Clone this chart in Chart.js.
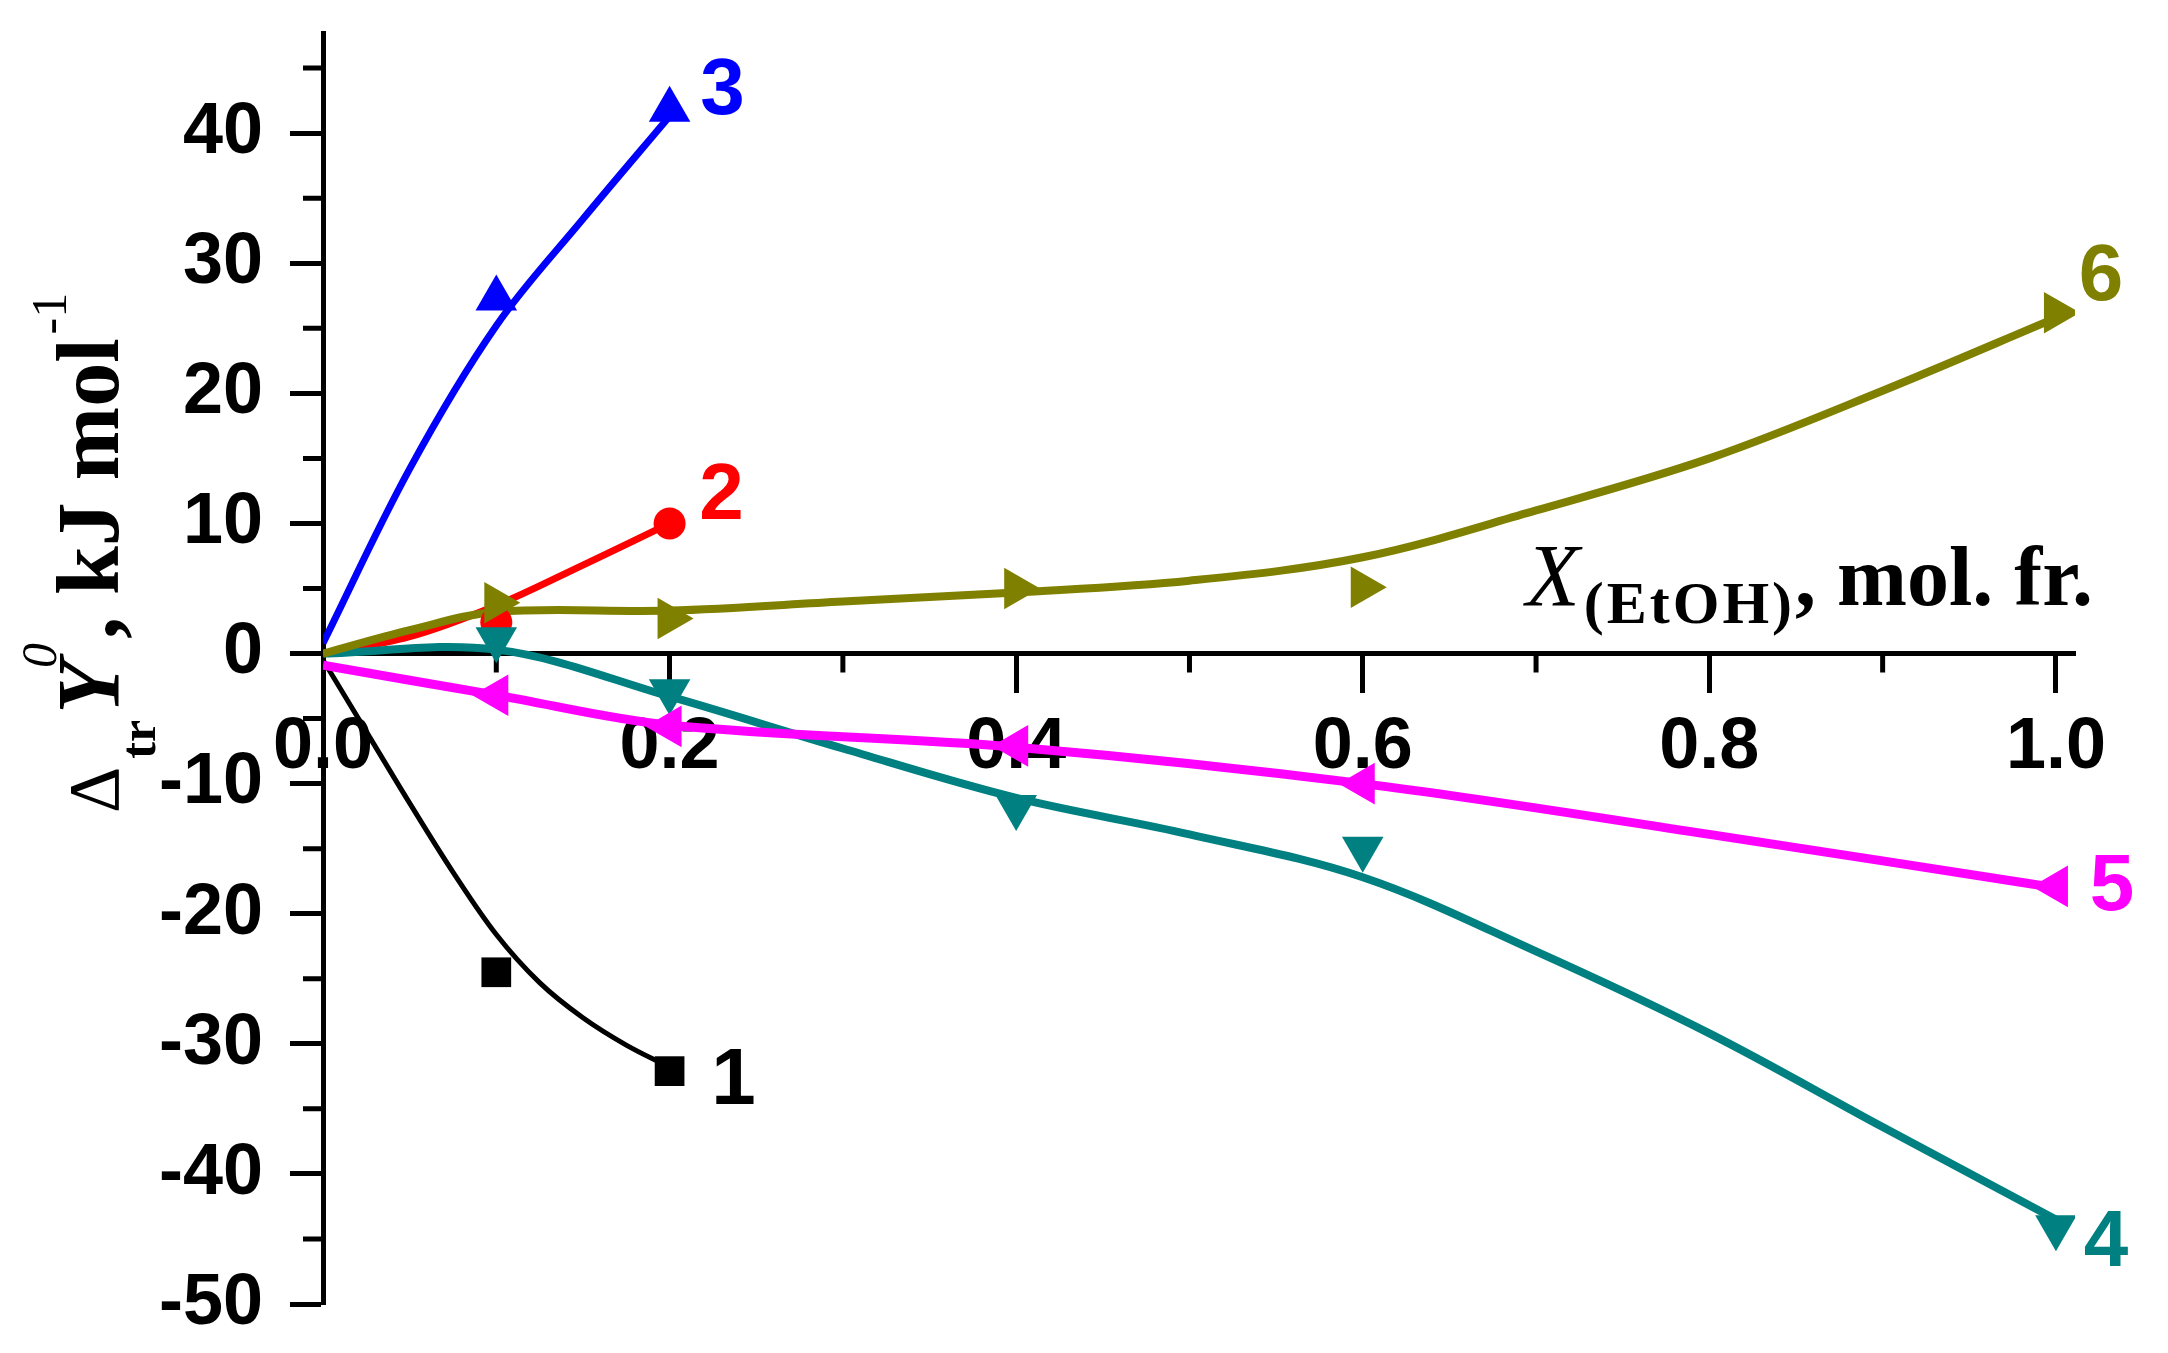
<!DOCTYPE html>
<html>
<head>
<meta charset="utf-8">
<script src="https://cdn.jsdelivr.net/npm/chart.js@4.4.0/dist/chart.umd.min.js"></script>
<style>
  html, body { margin: 0; padding: 0; background: #ffffff; }
  #wrap { width: 2168px; height: 1353px; }
</style>
</head>
<body>
<div id="wrap"><canvas id="chart"></canvas></div>
<script>
// series labels and colours (1..6)
const seriesLabels = ["1", "2", "3", "4", "5", "6"];
const seriesColors = ["#000000", "#ff0000", "#0000ff", "#008080", "#ff00ff", "#808000"];

// measured points (markers)
const markX1 = [0.1, 0.2];
const markY1 = [-24.5, -32.1];
const markX2 = [0.1, 0.2];
const markY2 = [2.4, 10.0];
const markX3 = [0.1, 0.2];
const markY3 = [27.3, 41.8];
const markX4 = [0.1, 0.2, 0.4, 0.6, 1.0];
const markY4 = [1.1, -2.9, -11.8, -15.0, -44.1];
const markX5 = [0.1, 0.2, 0.4, 0.6, 1.0];
const markY5 = [-3.2, -5.6, -7.1, -10.0, -17.9];
const markX6 = [0.1, 0.2, 0.4, 0.6, 1.0];
const markY6 = [3.9, 2.7, 5.0, 5.1, 26.2];

// fitted curves
const fitX1 = [0, 0.025, 0.05, 0.075, 0.1, 0.125, 0.15, 0.175, 0.2];
const fitY1 = [-0.5, -6.0, -11.5, -16.8, -21.6, -25.3, -28.0, -30.1, -31.8];
const fitX2 = [0, 0.05, 0.1, 0.15, 0.2];
const fitY2 = [0, 1.3, 3.7, 6.8, 10.0];
const fitX3 = [0, 0.05, 0.1, 0.15, 0.2];
const fitY3 = [0.8, 14.2, 25.2, 33.4, 41.3];
const fitX4 = [0, 0.1, 0.2, 0.3, 0.4, 0.5, 0.6, 0.7, 0.8, 0.9, 1.0];
const fitY4 = [0, 0.3, -3.3, -7.3, -11.1, -13.9, -17.2, -22.9, -29.2, -36.4, -43.5];
const fitX5 = [0, 0.1, 0.2, 0.4, 0.6, 0.8, 1.0];
const fitY5 = [-0.9, -3.2, -5.5, -7.2, -10.0, -13.9, -18.0];
const fitX6 = [0, 0.05, 0.1, 0.2, 0.3, 0.4, 0.5, 0.6, 0.7, 0.8, 0.9, 1.0];
const fitY6 = [0, 1.8, 3.2, 3.3, 4.0, 4.7, 5.6, 7.4, 11.0, 15.0, 20.2, 25.8];

// axis ticks
const xTicks = [0, 0.2, 0.4, 0.6, 0.8, 1.0];
const xMinorTicks = [0.1, 0.3, 0.5, 0.7, 0.9];
const yTicks = [-50, -40, -30, -20, -10, 0, 10, 20, 30, 40];
const yMinorTicks = [-45, -35, -25, -15, -5, 5, 15, 25, 35, 45];

const markX = [markX1, markX2, markX3, markX4, markX5, markX6];
const markY = [markY1, markY2, markY3, markY4, markY5, markY6];
const fitX = [fitX1, fitX2, fitX3, fitX4, fitX5, fitX6];
const fitY = [fitY1, fitY2, fitY3, fitY4, fitY5, fitY6];

const pointStyles = ["rect", "circle", "triangle", "triangle", "triangle", "triangle"];
const pointRotations = [0, 0, 0, 180, 270, 90];
const pointSizes = [21, 16, 24, 24, 24, 24];
const lineWidths = [5, 7, 7, 8, 9, 8];
// where each number sits, relative to the last marker of its series
const labelOffsets = [[64, 11], [52, -27], [53, -18], [50, 17], [56, 2], [45, -35]];

const toPoints = (xs, ys) => xs.map((x, i) => ({ x: x, y: ys[i] }));

const datasets = [];
// markers first so they are painted over the curves; olive on top
[5, 4, 3, 2, 1, 0].forEach((i) => {
  datasets.push({
    label: "marks " + seriesLabels[i],
    data: toPoints(markX[i], markY[i]),
    showLine: false,
    pointStyle: pointStyles[i],
    rotation: pointRotations[i],
    pointRadius: pointSizes[i],
    pointHoverRadius: pointSizes[i],
    pointBackgroundColor: seriesColors[i],
    pointBorderWidth: 0,
    order: 0,
  });
});
[5, 4, 3, 2, 1, 0].forEach((i) => {
  datasets.push({
    label: "fit " + seriesLabels[i],
    data: toPoints(fitX[i], fitY[i]),
    showLine: true,
    borderColor: seriesColors[i],
    borderWidth: lineWidths[i],
    tension: 0.35,
    pointRadius: 0,
    pointHoverRadius: 0,
    order: 1,
  });
});

const AXIS_LEFT = 323;

const extrasPlugin = {
  id: "extras",
  beforeDatasetsDraw(chart) {
    const ctx = chart.ctx;
    const xs = chart.scales.x;
    const ys = chart.scales.y;
    const y0 = ys.getPixelForValue(0);
    ctx.save();
    ctx.strokeStyle = "#000";
    ctx.lineWidth = 5;
    ctx.beginPath();
    xMinorTicks.forEach((v) => {
      const px = xs.getPixelForValue(v);
      ctx.moveTo(px, y0);
      ctx.lineTo(px, y0 + 19);
    });
    yMinorTicks.forEach((v) => {
      const py = ys.getPixelForValue(v);
      ctx.moveTo(xs.left, py);
      ctx.lineTo(xs.left - 20, py);
    });
    ctx.stroke();
    ctx.restore();
  },
  afterDraw(chart) {
    const ctx = chart.ctx;
    const xs = chart.scales.x;
    const ys = chart.scales.y;
    ctx.save();

    // series numbers
    ctx.font = "bold 80px 'Liberation Sans', Arial, sans-serif";
    ctx.textAlign = "center";
    ctx.textBaseline = "middle";
    seriesLabels.forEach((lab, i) => {
      const n = markX[i].length - 1;
      const px = xs.getPixelForValue(markX[i][n]) + labelOffsets[i][0];
      const py = ys.getPixelForValue(markY[i][n]) + labelOffsets[i][1];
      ctx.fillStyle = seriesColors[i];
      ctx.fillText(lab, px, py);
    });

    // x axis title: X(EtOH), mol. fr.
    ctx.fillStyle = "#000";
    ctx.textAlign = "left";
    ctx.textBaseline = "alphabetic";
    let tx = 1526;
    const tb = 605;
    ctx.font = "italic 88px 'Liberation Serif', 'Times New Roman', serif";
    ctx.fillText("X", tx, tb);
    tx += ctx.measureText("X").width + 4;
    ctx.font = "bold 60px 'Liberation Serif', 'Times New Roman', serif";
    ctx.letterSpacing = "3px";
    ctx.fillText("(EtOH)", tx, tb + 18);
    tx += ctx.measureText("(EtOH)").width;
    ctx.letterSpacing = "0px";
    ctx.font = "bold 84px 'Liberation Serif', 'Times New Roman', serif";
    ctx.fillText(", mol. fr.", tx, tb);

    // y axis title, rotated: Δtr Y0, kJ mol-1
    ctx.translate(118, 815);
    ctx.rotate(-Math.PI / 2);
    let u = 2;
    ctx.font = "72px 'Liberation Serif', 'Times New Roman', serif";
    ctx.fillText("\u0394", u, 0);
    u += ctx.measureText("\u0394").width + 8;
    ctx.font = "bold 50px 'Liberation Serif', 'Times New Roman', serif";
    ctx.fillText("tr", u, 37);
    u += ctx.measureText("tr").width + 6;
    ctx.font = "bold italic 88px 'Liberation Serif', 'Times New Roman', serif";
    ctx.fillText("Y", u, 0);
    u += ctx.measureText("Y").width - 8;
    ctx.font = "italic 50px 'Liberation Serif', 'Times New Roman', serif";
    ctx.fillText("0", u, -62);
    u += ctx.measureText("0").width + 4;
    ctx.font = "bold 88px 'Liberation Serif', 'Times New Roman', serif";
    ctx.fillText(", kJ mol", u, 0);
    u += ctx.measureText(", kJ mol").width + 4;
    ctx.font = "50px 'Liberation Serif', 'Times New Roman', serif";
    ctx.fillText("-1", u, -52);
    ctx.restore();
  },
};

new Chart(document.getElementById("chart"), {
  type: "scatter",
  data: { datasets: datasets },
  options: {
    responsive: true,
    maintainAspectRatio: false,
    animation: false,
    layout: { padding: { left: 0, top: 33, right: 93, bottom: 49 } },
    plugins: {
      legend: { display: false },
      tooltip: { enabled: false },
    },
    scales: {
      x: {
        type: "linear",
        position: { y: 0 },
        min: 0,
        max: 1.011,
        afterBuildTicks: (scale) => {
          scale.ticks = xTicks.map((v) => ({ value: v }));
        },
        afterFit: (scale) => {
          scale.height = 0;
          scale.paddingLeft = 0;
          scale.paddingRight = 0;
        },
        grid: {
          drawOnChartArea: false,
          drawTicks: true,
          tickLength: 37,
          tickWidth: 5,
          tickColor: "#000",
        },
        border: { display: true, color: "#000", width: 5 },
        ticks: {
          padding: 14,
          color: "#000",
          font: { family: "'Liberation Sans', Arial, sans-serif", size: 72, weight: "bold" },
          callback: (v) => Number(v).toFixed(1),
          maxRotation: 0,
          autoSkip: false,
        },
      },
      y: {
        type: "linear",
        position: "left",
        min: -50,
        max: 47.7,
        afterBuildTicks: (scale) => {
          scale.ticks = yTicks.map((v) => ({ value: v }));
        },
        afterFit: (scale) => {
          scale.width = AXIS_LEFT;
          scale.paddingTop = 0;
          scale.paddingBottom = 0;
        },
        grid: {
          drawOnChartArea: false,
          drawTicks: true,
          tickLength: 33,
          tickWidth: 5,
          tickColor: "#000",
        },
        border: { display: true, color: "#000", width: 5 },
        ticks: {
          padding: 27,
          color: "#000",
          font: { family: "'Liberation Sans', Arial, sans-serif", size: 72, weight: "bold" },
          callback: (v) => String(v),
          autoSkip: false,
        },
      },
    },
  },
  plugins: [extrasPlugin],
});
</script>
</body>
</html>
